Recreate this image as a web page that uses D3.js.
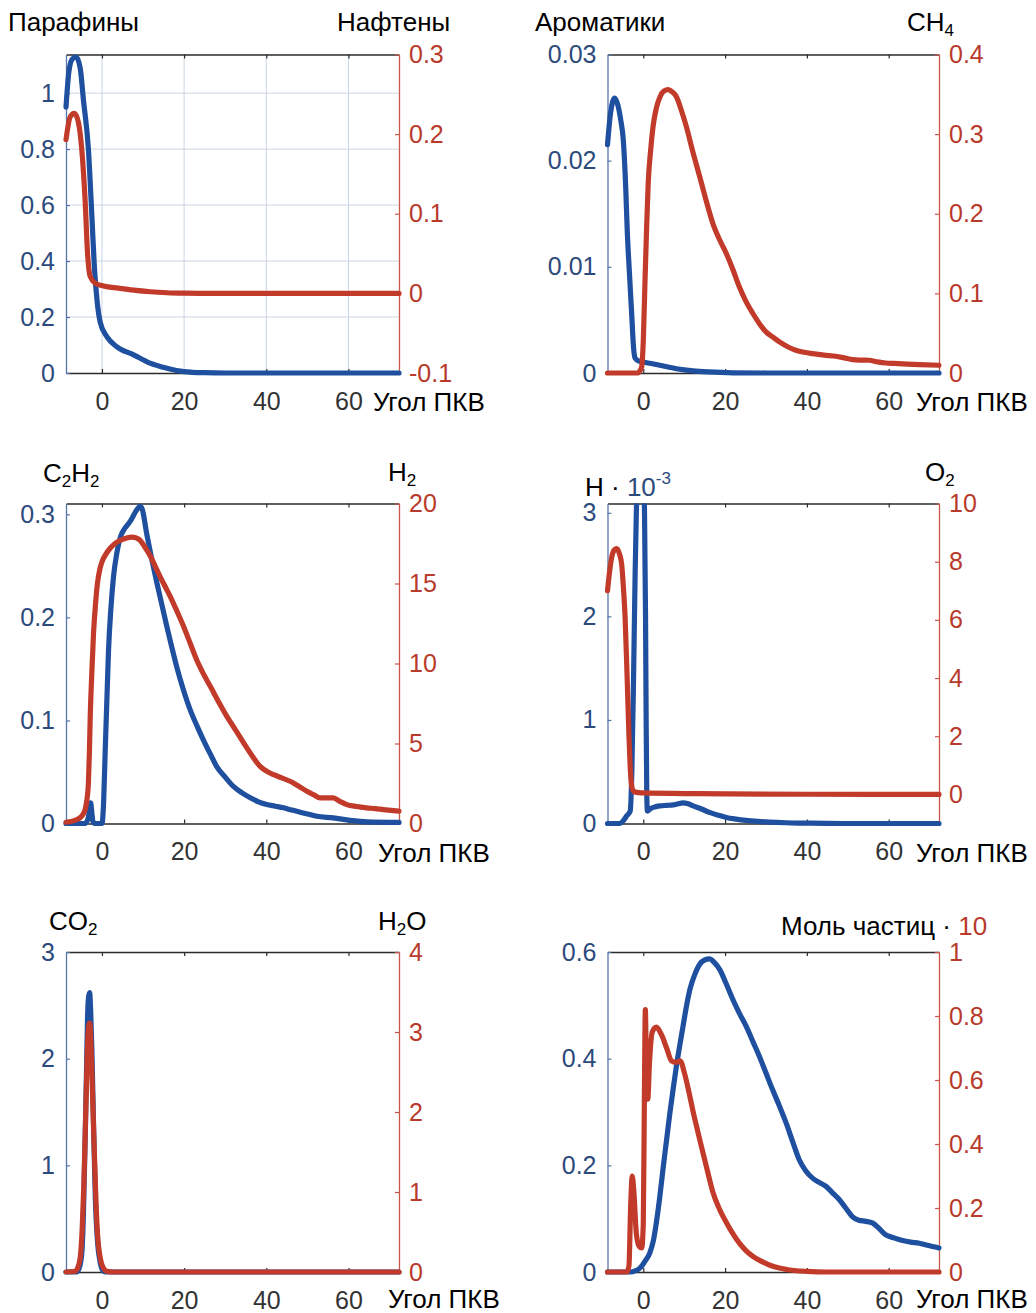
<!DOCTYPE html>
<html>
<head>
<meta charset="utf-8">
<script src="https://cdn.jsdelivr.net/npm/d3@7"></script>
<style>
  body { margin: 0; background: #fff; }
  svg { display: block; }
  text { font-family: "Liberation Sans", Arial, Helvetica, sans-serif; }
</style>
</head>
<body>
<svg id="fig" width="1036" height="1313"></svg>
<script>
// ---- Data: crank angle (deg) vs. species amounts ----
const angleTicks = [0, 20, 40, 60];

const paraffins = [[-8.75,0.95],[-8.1,1.07],[-7.3,1.12],[-6.3,1.13],[-5.3,1.09],[-4.5,0.975],[-3.3,0.8],[-2.45,0.56],[-1.85,0.38],[-1.2,0.26],[-0.4,0.18],[1.2,0.13],[3.6,0.094],[7.7,0.065],[11.7,0.035],[15.8,0.017],[19.9,0.005],[25,0.001],[30,0],[72.3,0]];
const naphthenes = [[-8.75,0.193],[-7.7,0.222],[-6.7,0.226],[-5.7,0.214],[-4.9,0.18],[-4.1,0.117],[-3.5,0.05],[-2.85,0.021],[-1.6,0.0126],[0.4,0.0092],[4,0.0065],[7.7,0.004],[11.8,0.002],[15.8,0.0008],[20,0.0002],[24,0],[72.3,0]];
const paraffinTicks = [0, 0.2, 0.4, 0.6, 0.8, 1];
const naphtheneTicks = [-0.1, 0, 0.1, 0.2, 0.3];

const aromatics = [[-8.75,0.0215],[-8.0,0.0245],[-7.0,0.0259],[-6.2,0.0252],[-5.5,0.0238],[-4.9,0.022],[-4.3,0.0175],[-3.9,0.0132],[-3.4,0.0095],[-2.8,0.0053],[-2.4,0.0025],[-2.0,0.0014],[-1.0,0.0011],[0,0.00104],[4,0.00073],[8.1,0.0004],[12.2,0.0002],[16,0.0001],[22,0.00002],[30,0],[72.3,0]];
const methane = [[-8.75,0],[-1.3,0],[-0.8,0.003],[-0.4,0.0075],[0.0,0.04],[0.4,0.112],[0.8,0.18],[1.2,0.238],[1.8,0.28],[2.4,0.31],[3.2,0.333],[4.1,0.347],[5.0,0.354],[6.1,0.356],[7.1,0.353],[8.1,0.347],[9.3,0.33],[10.5,0.31],[12.1,0.278],[13.8,0.2465],[15.4,0.216],[17.0,0.188],[18.6,0.168],[20.3,0.15],[21.9,0.13],[23.5,0.108],[25.1,0.09],[26.8,0.0747],[28.4,0.062],[30,0.0516],[31.7,0.045],[33.3,0.039],[35.3,0.033],[37.3,0.0286],[39.4,0.026],[41.4,0.0244],[44.2,0.0225],[47.1,0.021],[49.1,0.019],[51.2,0.0168],[53.2,0.0162],[55.2,0.016],[57.3,0.014],[59.3,0.0126],[61.4,0.012],[63.4,0.0115],[67.5,0.0105],[72.3,0.0097]];
const aromaticTicks = [0, 0.01, 0.02, 0.03];
const methaneTicks = [0, 0.1, 0.2, 0.3, 0.4];

const acetylene = [[-8.75,0],[-4.1,0],[-3.3,0.006],[-2.75,0.02],[-2.5,0.012],[-2.2,0.002],[-1.7,0],[0.0,0],[0.4,0.02],[0.8,0.0716],[1.2,0.12],[1.6,0.168],[2.2,0.21],[2.8,0.239],[3.6,0.262],[4.5,0.278],[5.5,0.286],[6.5,0.291],[7.3,0.296],[8.1,0.302],[8.8,0.306],[9.3,0.308],[9.8,0.305],[10.9,0.281],[12.1,0.257],[13.4,0.233],[14.6,0.212],[15.8,0.191],[17,0.171],[18.2,0.152],[19.8,0.13],[21.5,0.11],[23.1,0.095],[24.7,0.081],[26.3,0.068],[27.9,0.0555],[30,0.045],[32,0.036],[34,0.03],[36.1,0.025],[38.1,0.021],[40.1,0.0184],[42.2,0.0168],[44.2,0.0152],[46.2,0.013],[48.2,0.011],[50.3,0.009],[52.3,0.007],[56.3,0.0055],[60.4,0.003],[64.5,0.0015],[72.3,0.001]];
const hydrogen = [[-8.75,0.08],[-6.1,0.25],[-4.8,0.5],[-4.1,0.87],[-3.6,1.6],[-3.3,2.5],[-3.05,4.5],[-2.85,6.7],[-2.45,9.5],[-2.05,11.9],[-1.6,13.6],[-1.1,15.0],[-0.5,15.9],[0,16.35],[1,16.85],[2,17.2],[3.2,17.5],[4.5,17.7],[6,17.85],[7.3,17.9],[8.3,17.85],[9.3,17.7],[10.5,17.25],[11.8,16.7],[13,16.05],[14.2,15.4],[15.4,14.8],[16.6,14.2],[18.2,13.3],[19.9,12.3],[21.5,11.25],[23.1,10.2],[24.7,9.35],[26.4,8.56],[28.4,7.6],[30.4,6.69],[32.5,5.85],[34.5,5.03],[36.5,4.25],[38.5,3.57],[40.2,3.25],[41.8,3.05],[43.8,2.85],[45.8,2.64],[47.9,2.33],[49.9,2.01],[51.5,1.8],[53.1,1.6],[54.7,1.6],[56.3,1.6],[57.9,1.38],[59.6,1.18],[62,1.06],[64.4,0.98],[66.5,0.93],[68.5,0.87],[72.3,0.77]];
const acetyleneTicks = [0, 0.1, 0.2, 0.3];
const hydrogenTicks = [0, 5, 10, 15, 20];

const atomicH = [[-8.75,0],[-5.7,0],[-4.9,0.026],[-4.05,0.074],[-3.2,0.12],[-2.8,0.5],[-2.4,1.35],[-2.0,2.4],[-1.7,3.0],[-1.2,3.4],[-0.6,3.5],[0,3.4],[0.3,3.0],[0.55,2.0],[0.7,1.0],[0.85,0.3],[1.0,0.12],[1.6,0.14],[2.8,0.16],[4.1,0.17],[5.7,0.175],[7.3,0.18],[8.5,0.19],[9.7,0.2],[11,0.19],[12.2,0.17],[14.2,0.14],[16.2,0.107],[18.3,0.08],[20.3,0.058],[22.7,0.042],[25.1,0.03],[28,0.02],[30.8,0.013],[34.8,0.007],[38.9,0.004],[45,0.001],[52,0],[72.3,0]];
const oxygen = [[-8.75,7.0],[-8.2,7.7],[-7.7,8.16],[-7.1,8.4],[-6.5,8.45],[-5.9,8.3],[-5.3,7.93],[-4.85,7.1],[-4.45,6.1],[-3.9,3.8],[-3.5,2.0],[-3.2,0.94],[-2.9,0.35],[-2.4,0.1],[-1,0.06],[0,0.05],[10,0.03],[20,0.015],[40,0.005],[72.3,0]];
const atomicHTicks = [0, 1, 2, 3];
const oxygenTicks = [0, 2, 4, 6, 8, 10];

const carbonDioxide = [[-8.75,0],[-6.2,0],[-5.5,0.04],[-4.9,0.18],[-4.5,0.55],[-4.06,1.3],[-3.75,1.9],[-3.5,2.39],[-3.25,2.58],[-3.0,2.62],[-2.75,2.45],[-2.45,2.08],[-2.0,1.3],[-1.6,0.68],[-1.0,0.25],[-0.4,0.084],[0.3,0.01],[1,0],[72.3,0]];
const water = [[-8.75,0],[-6.5,0.01],[-6.0,0.04],[-5.3,0.175],[-4.8,0.55],[-4.4,1.1],[-4.06,1.74],[-3.7,2.5],[-3.35,3.0],[-3.0,3.11],[-2.7,2.9],[-2.4,2.4],[-2.0,1.74],[-1.5,0.95],[-1.1,0.49],[-0.5,0.2],[0,0.09],[0.6,0.03],[1.2,0.01],[3,0],[72.3,0]];
const carbonDioxideTicks = [0, 1, 2, 3];
const waterTicks = [0, 1, 2, 3, 4];

const sootMoles = [[-8.75,0],[-3.2,0],[-2,0.002],[-0.8,0.0075],[0.4,0.02],[1.6,0.036],[2.5,0.06],[3.3,0.098],[4.1,0.145],[4.9,0.198],[5.7,0.248],[6.5,0.298],[7.3,0.343],[8.1,0.386],[8.9,0.424],[9.7,0.46],[10.5,0.496],[11.4,0.53],[12.6,0.558],[13.8,0.577],[15,0.585],[16.2,0.587],[17.4,0.58],[18.7,0.567],[20.3,0.54],[21.9,0.511],[23.5,0.485],[25.2,0.46],[26.8,0.432],[28.4,0.404],[30,0.373],[31.6,0.342],[33.3,0.311],[34.9,0.28],[36.5,0.245],[38.1,0.211],[39.7,0.19],[41.4,0.176],[43,0.168],[44.6,0.161],[46.2,0.149],[47.9,0.136],[49.5,0.12],[51.1,0.104],[52.7,0.097],[54.4,0.095],[56,0.092],[57.6,0.082],[59.2,0.07],[61.3,0.064],[63.4,0.059],[65.4,0.056],[67.5,0.054],[69.5,0.05],[72.3,0.045]];
const particleMoles = [[-8.75,0],[-4.0,0],[-3.5,0.02],[-3.1,0.2],[-2.7,0.3],[-2.3,0.25],[-1.7,0.12],[-1.0,0.08],[-0.4,0.075],[0.0,0.15],[0.3,0.6],[0.5,0.82],[0.8,0.6],[1.1,0.54],[1.5,0.65],[2.2,0.75],[3.2,0.765],[4.5,0.74],[5.7,0.7],[6.9,0.66],[8.0,0.655],[9.0,0.66],[10.1,0.62],[11.2,0.56],[12.2,0.5],[13.4,0.435],[14.6,0.372],[15.8,0.31],[17,0.25],[18.5,0.2],[20.3,0.155],[21.9,0.12],[23.5,0.09],[25.1,0.067],[26.8,0.049],[28.8,0.034],[30.8,0.022],[33,0.013],[35,0.008],[40,0.002],[45,0],[72.3,0]];
const sootTicks = [0, 0.2, 0.4, 0.6];
const particleTicks = [0, 0.2, 0.4, 0.6, 0.8, 1];

// ---- Layout & style ----
const BLUE = "#1f4f9f", RED = "#c23b2a";
const BLUE_TXT = "#2c4a7c", RED_TXT = "#b83a2b";
const BLUE_AX = "#5676aa", RED_AX = "#c8574a";
const FONT = 25;
const LINE_W = 5.2;

const cols = [[66, 399], [607.5, 939]];
const rows = [[54.5, 373], [503.5, 823.5], [952, 1272]];
const angleDomain = [-8.75, 72.3];

const panels = [
  { c: 0, r: 0, left: paraffins, right: naphthenes, lDom: [0, 1.138], rDom: [-0.1, 0.3], lTicks: paraffinTicks, rTicks: naphtheneTicks, grid: true, xlabelX: 373 },
  { c: 1, r: 0, left: aromatics, right: methane, lDom: [0, 0.03], rDom: [0, 0.4], lTicks: aromaticTicks, rTicks: methaneTicks, xlabelX: 916 },
  { c: 0, r: 1, left: acetylene, right: hydrogen, lDom: [0, 0.3105], rDom: [0, 20], lTicks: acetyleneTicks, rTicks: hydrogenTicks, xlabelX: 378 },
  { c: 1, r: 1, left: atomicH, right: oxygen, lDom: [0, 3.09], rDom: [-1, 10], lTicks: atomicHTicks, rTicks: oxygenTicks, xlabelX: 916 },
  { c: 0, r: 2, left: carbonDioxide, right: water, lDom: [0, 3], rDom: [0, 4], lTicks: carbonDioxideTicks, rTicks: waterTicks, xlabelX: 388 },
  { c: 1, r: 2, left: sootMoles, right: particleMoles, lDom: [0, 0.6], rDom: [0, 1], lTicks: sootTicks, rTicks: particleTicks, xlabelX: 916 }
];

const svg = d3.select("#fig");
const fmt = v => String(v);

function styleAxis(g, color, textColor) {
  g.attr("font-family", null).attr("font-size", null);
  g.select(".domain").attr("stroke", color).attr("stroke-width", 1.3);
  g.selectAll(".tick line").attr("stroke", color).attr("stroke-width", 1.2);
  g.selectAll(".tick text").attr("fill", textColor).attr("font-size", FONT);
}

panels.forEach((p, i) => {
  const [x0, x1] = cols[p.c];
  const [y0, y1] = rows[p.r];
  const x = d3.scaleLinear().domain(angleDomain).range([x0, x1]);
  const yl = d3.scaleLinear().domain(p.lDom).range([y1, y0]);
  const yr = d3.scaleLinear().domain(p.rDom).range([y1, y0]);
  const g = svg.append("g");

  if (p.grid) {
    const grid = g.append("g").attr("stroke", "#c9d6e6").attr("stroke-width", 1);
    grid.selectAll("line.v").data(angleTicks).join("line")
      .attr("x1", d => x(d)).attr("x2", d => x(d)).attr("y1", y0).attr("y2", y1);
    grid.selectAll("line.h").data(p.lTicks.filter(d => d > 0)).join("line")
      .attr("x1", x0).attr("x2", x1).attr("y1", d => yl(d)).attr("y2", d => yl(d));
  }

  // frame: top and bottom
  const top = g.append("g").attr("transform", `translate(0,${y0})`)
    .call(d3.axisTop(x).tickValues(angleTicks).tickSize(-4).tickSizeOuter(0).tickFormat(""));
  styleAxis(top, "#2b2b2b", "#2b2b2b");
  const bottom = g.append("g").attr("transform", `translate(0,${y1})`)
    .call(d3.axisBottom(x).tickValues(angleTicks).tickSize(-4).tickSizeOuter(0).tickPadding(19).tickFormat(fmt));
  styleAxis(bottom, "#2b2b2b", "#333");

  const left = g.append("g").attr("transform", `translate(${x0},0)`)
    .call(d3.axisLeft(yl).tickValues(p.lTicks).tickSize(-4).tickSizeOuter(0).tickPadding(11).tickFormat(fmt));
  styleAxis(left, BLUE_AX, BLUE_TXT);
  const right = g.append("g").attr("transform", `translate(${x1},0)`)
    .call(d3.axisRight(yr).tickValues(p.rTicks).tickSize(-4).tickSizeOuter(0).tickPadding(10).tickFormat(fmt));
  styleAxis(right, RED_AX, RED_TXT);

  // curves
  const clipId = "clip" + i;
  svg.append("clipPath").attr("id", clipId).append("rect")
    .attr("x", x0 - 3).attr("y", y0).attr("width", x1 - x0 + 6).attr("height", y1 - y0 + 3);
  const plot = g.append("g").attr("clip-path", `url(#${clipId})`);
  const lineL = d3.line().x(d => x(d[0])).y(d => yl(d[1])).curve(d3.curveMonotoneX);
  const lineR = d3.line().x(d => x(d[0])).y(d => yr(d[1])).curve(d3.curveMonotoneX);
  plot.append("path").datum(p.left).attr("d", lineL)
    .attr("fill", "none").attr("stroke", BLUE).attr("stroke-width", LINE_W)
    .attr("stroke-linejoin", "round").attr("stroke-linecap", "round");
  plot.append("path").datum(p.right).attr("d", lineR)
    .attr("fill", "none").attr("stroke", RED).attr("stroke-width", LINE_W)
    .attr("stroke-linejoin", "round").attr("stroke-linecap", "round");

  // x-axis name
  svg.append("text").attr("x", p.xlabelX).attr("y", Math.min(y1 + 38, 1308))
    .attr("font-size", FONT + 1).attr("fill", "#000").text("Угол ПКВ");
});

// ---- Series names ----
function label(xPos, yPos, parts) {
  const t = svg.append("text").attr("x", xPos).attr("y", yPos).attr("font-size", FONT + 1).attr("fill", "#000");
  let shift = 0;
  parts.forEach(pt => {
    const s = t.append("tspan").text(pt.t);
    const target = pt.sub ? 5 : pt.sup ? -12 : 0;
    if (target !== shift) { s.attr("dy", target - shift); shift = target; }
    if (pt.sub || pt.sup) s.attr("font-size", 17);
    if (pt.fill) s.attr("fill", pt.fill);
  });
}

label(8, 31, [{ t: "Парафины" }]);
label(337, 31, [{ t: "Нафтены" }]);
label(535, 31, [{ t: "Ароматики" }]);
label(907, 31, [{ t: "CH" }, { t: "4", sub: true }]);

label(43, 482, [{ t: "C" }, { t: "2", sub: true }, { t: "H" }, { t: "2", sub: true }]);
label(388, 481, [{ t: "H" }, { t: "2", sub: true }]);
label(585, 496, [{ t: "H · " }, { t: "10", fill: BLUE_TXT }, { t: "-3", sup: true, fill: BLUE_TXT }]);
label(925, 481, [{ t: "O" }, { t: "2", sub: true }]);

label(49, 930, [{ t: "CO" }, { t: "2", sub: true }]);
label(378, 930, [{ t: "H" }, { t: "2", sub: true }, { t: "O" }]);
label(781, 935, [{ t: "Моль частиц · " }, { t: "10", fill: RED_TXT }]);
</script>
</body>
</html>
